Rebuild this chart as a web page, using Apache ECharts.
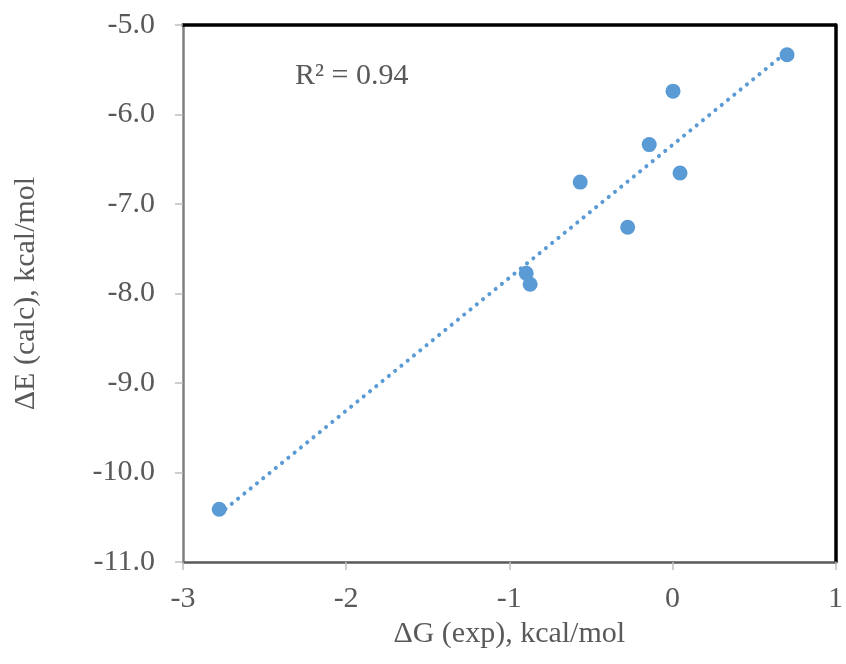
<!DOCTYPE html>
<html><head><meta charset="utf-8">
<script src="https://cdn.jsdelivr.net/npm/echarts@6/dist/echarts.min.js"></script>
<style>html,body{margin:0;padding:0;background:#fff}#c{width:846px;height:664px}</style>
</head><body><div id="c"></div>
<script>
const dGexp = [-2.778, -0.896, -0.872, -0.565, -0.274, -0.142, 0.004, 0.047, 0.703];
const dEcalc = [-10.41, -7.774, -7.897, -6.755, -7.259, -6.336, -5.739, -6.654, -5.333];
const r2Label = 'R² = 0.94';
const xTitle = 'ΔG (exp), kcal/mol';
const yTitle = 'ΔE (calc), kcal/mol';

// least-squares trendline computed from the data
const n = dGexp.length;
const mx = dGexp.reduce((a,b)=>a+b,0)/n, my = dEcalc.reduce((a,b)=>a+b,0)/n;
let sxy=0, sxx=0;
for (let i=0;i<n;i++){ sxy += (dGexp[i]-mx)*(dEcalc[i]-my); sxx += (dGexp[i]-mx)**2; }
const slope = sxy/sxx, icpt = my - slope*mx;
const xmin = Math.min(...dGexp), xmax = Math.max(...dGexp);
const trend = [[xmin, slope*xmin+icpt],[xmax, slope*xmax+icpt]];

const font = '"Liberation Serif","Times New Roman",serif';
const txt = '#595959';
const chart = echarts.init(document.getElementById('c'), null, {renderer:'canvas'});
chart.setOption({
  animation:false,
  grid:{left:183, top:25, right:6, bottom:102, containLabel:false},
  xAxis:[{
    type:'value', min:-3, max:1, interval:1, position:'bottom',
    axisLine:{show:true, onZero:false, lineStyle:{color:'#595959', width:2.5}},
    axisTick:{show:true, inside:false, length:8, lineStyle:{color:'#bfbfbf', width:1.5}},
    axisLabel:{color:txt, fontFamily:font, fontSize:30, margin:22},
    splitLine:{show:false},
    name:xTitle, nameLocation:'middle', nameGap:56,
    nameTextStyle:{color:txt, fontFamily:font, fontSize:30}
  },{
    type:'value', min:-3, max:1, interval:1, position:'top',
    axisLine:{show:true, onZero:false, lineStyle:{color:'#000', width:3.5}},
    axisTick:{show:false}, axisLabel:{show:false}, splitLine:{show:false}
  }],
  yAxis:[{
    type:'value', min:-11, max:-5, interval:1, position:'left',
    axisLine:{show:true, onZero:false, lineStyle:{color:'#7f7f7f', width:2.5}},
    axisTick:{show:true, inside:false, length:8, lineStyle:{color:'#bfbfbf', width:1.5}},
    axisLabel:{color:txt, fontFamily:font, fontSize:30, margin:28, formatter:v=>v.toFixed(1)},
    splitLine:{show:false},
    name:yTitle, nameLocation:'middle', nameGap:142, nameRotate:90,
    nameTextStyle:{color:txt, fontFamily:font, fontSize:30}
  },{
    type:'value', min:-11, max:-5, interval:1, position:'right',
    axisLine:{show:true, onZero:false, lineStyle:{color:'#000', width:3.5}},
    axisTick:{show:false}, axisLabel:{show:false}, splitLine:{show:false}
  }],
  series:[{
    type:'line', data:trend, symbol:'none', z:2, silent:true,
    lineStyle:{color:'#5B9BD5', width:4, type:[0.1,8], cap:'round'}
  },{
    type:'scatter', data:dGexp.map((x,i)=>[x,dEcalc[i]]), symbol:'circle', symbolSize:15, z:3,
    itemStyle:{color:'#5B9BD5', opacity:1}
  }],
  graphic:[{
    type:'text', left:295, top:61,
    style:{text:r2Label, fill:txt, font:'30px '+font}
  }]
});
</script></body></html>
